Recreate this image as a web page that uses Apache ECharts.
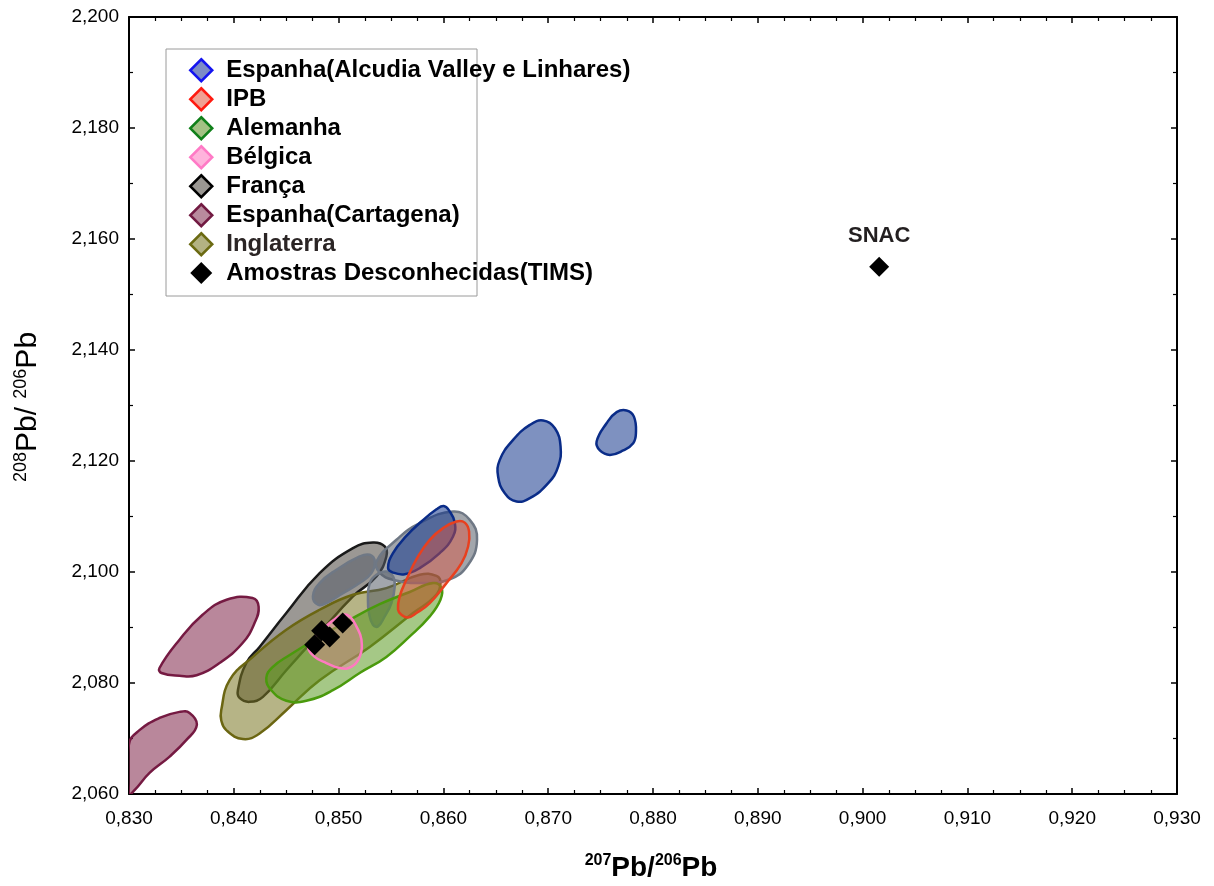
<!DOCTYPE html>
<html>
<head>
<meta charset="utf-8">
<script src="https://cdn.jsdelivr.net/npm/echarts@6/dist/echarts.min.js"></script>
<style>
html,body{margin:0;padding:0;background:#fff;}
#chart{width:1214px;height:886px;}
</style>
</head>
<body>
<div id="chart"></div>
<script>
// ---- data (x = 207Pb/206Pb, y = 208Pb/206Pb) ----
const alcudiaRegions = [
  [[0.86538,2.1202],[0.86665,2.1238],[0.86825,2.1265],[0.86952,2.1273],[0.87064,2.1259],[0.87118,2.1226],[0.87095,2.1190],[0.87000,2.1160],[0.86825,2.1133],[0.86698,2.1127],[0.86586,2.1142],[0.86522,2.1172]],
  [[0.87462,2.1235],[0.87557,2.1268],[0.87653,2.1288],[0.87748,2.1291],[0.87818,2.1280],[0.87837,2.1250],[0.87811,2.1232],[0.87716,2.1219],[0.87589,2.1211],[0.87493,2.1219]],
  [[0.85472,2.1007],[0.85519,2.1034],[0.85647,2.1065],[0.85790,2.1091],[0.85934,2.1113],[0.86003,2.1119],[0.86054,2.1111],[0.86109,2.1089],[0.86092,2.1064],[0.85965,2.1034],[0.85774,2.1007],[0.85631,2.0996],[0.85519,2.0999]]
];
const ipbRegions = [
  [[0.85567,2.0932],[0.85583,2.0956],[0.85647,2.0986],[0.85758,2.1028],[0.85870,2.1058],[0.85997,2.1079],[0.86125,2.1091],[0.86204,2.1089],[0.86245,2.1073],[0.86236,2.1046],[0.86173,2.1016],[0.86029,2.0980],[0.85870,2.0944],[0.85743,2.0926],[0.85663,2.0918],[0.85600,2.0923]]
];
const alemanhaRegions = [
  [[0.84310,2.0809],[0.84373,2.0829],[0.84530,2.0850],[0.84819,2.0883],[0.85106,2.0914],[0.85392,2.0942],[0.85679,2.0964],[0.85901,2.0980],[0.85982,2.0971],[0.85972,2.0950],[0.85870,2.0920],[0.85679,2.0884],[0.85456,2.0847],[0.85201,2.0818],[0.84946,2.0787],[0.84692,2.0768],[0.84501,2.0768],[0.84358,2.0787]]
];
const belgicaRegions = [
  [[0.84708,2.0865],[0.84755,2.0878],[0.84915,2.0908],[0.85042,2.0923],[0.85106,2.0920],[0.85170,2.0902],[0.85218,2.0878],[0.85201,2.0847],[0.85122,2.0829],[0.85010,2.0827],[0.84883,2.0836],[0.84772,2.0847]]
];
const francaRegions = [
  [[0.84039,2.0787],[0.84119,2.0836],[0.84246,2.0865],[0.84501,2.0926],[0.84819,2.0998],[0.85137,2.1043],[0.85328,2.1053],[0.85440,2.1046],[0.85456,2.1028],[0.85361,2.0992],[0.85137,2.0956],[0.84819,2.0890],[0.84501,2.0823],[0.84278,2.0775],[0.84151,2.0766],[0.84055,2.0773]]
];
const francaSubRegions = [
  [[0.85361,2.1019],[0.85552,2.1058],[0.85774,2.1088],[0.86092,2.1109],[0.86252,2.1094],[0.86321,2.1058],[0.86236,2.1013],[0.86061,2.0987],[0.85774,2.0980],[0.85519,2.0986],[0.85392,2.0999]],
  [[0.84755,2.0956],[0.84819,2.0980],[0.84979,2.1004],[0.85201,2.1028],[0.85297,2.1031],[0.85345,2.1019],[0.85313,2.0998],[0.85201,2.0980],[0.85042,2.0962],[0.84883,2.0944],[0.84803,2.0941]],
  [[0.85280,2.0950],[0.85297,2.0980],[0.85361,2.0995],[0.85456,2.1001],[0.85519,2.0992],[0.85536,2.0974],[0.85504,2.0944],[0.85440,2.0920],[0.85376,2.0902],[0.85328,2.0905],[0.85290,2.0926]]
];
const cartagenaRegions = [
  [[0.83291,2.0827],[0.83482,2.0878],[0.83702,2.0923],[0.83931,2.0950],[0.84179,2.0953],[0.84237,2.0937],[0.84198,2.0908],[0.84084,2.0872],[0.83864,2.0836],[0.83645,2.0814],[0.83482,2.0813],[0.83310,2.0818]],
  [[0.83000,2.0600],[0.83000,2.0690],[0.83100,2.0715],[0.83291,2.0737],[0.83482,2.0748],[0.83578,2.0746],[0.83647,2.0724],[0.83546,2.0697],[0.83385,2.0667],[0.83196,2.0638],[0.83053,2.0607]]
];
const inglaterraRegions = [
  [[0.83880,2.0751],[0.83960,2.0805],[0.84182,2.0847],[0.84501,2.0896],[0.84819,2.0932],[0.85137,2.0959],[0.85456,2.0971],[0.85774,2.0995],[0.85934,2.0993],[0.85972,2.0980],[0.85918,2.0956],[0.85710,2.0926],[0.85297,2.0865],[0.84819,2.0805],[0.84501,2.0751],[0.84246,2.0709],[0.84087,2.0699],[0.83928,2.0715],[0.83880,2.0733]]
];
const timsPoints = [[0.84772,2.0869],[0.84838,2.0894],[0.84915,2.0883],[0.85039,2.0908]];
const snacPoint = [[0.90158,2.1550]];

const names = ['Espanha(Alcudia Valley e Linhares)','IPB','Alemanha','Bélgica','França','Espanha(Cartagena)','Inglaterra','Amostras Desconhecidas(TIMS)'];

const FONT = "'Liberation Sans', Arial, Helvetica, sans-serif";
const fmt = v => v.toFixed(3).replace('.', ',');

function regionSeries(name, regions, fill, stroke, lw) {
  return {
    type: 'custom', name: name, clip: true,
    itemStyle: { color: fill, borderColor: stroke },
    data: regions.map(r => r[0]),
    renderItem: function (params, api) {
      const pts = regions[params.dataIndex].map(p => api.coord(p));
      return {
        type: 'polygon',
        shape: { points: pts, smooth: 0.45 },
        style: { fill: fill, stroke: stroke, lineWidth: lw || 2.5 }
      };
    }
  };
}

const chart = echarts.init(document.getElementById('chart'), null, { renderer: 'canvas' });

const axisCommon = {
  type: 'value',
  axisLine: { show: true, onZero: false, lineStyle: { color: '#000', width: 2 } },
  axisTick: { show: true, inside: true, length: 6, lineStyle: { color: '#000', width: 1.5 } },
  splitLine: { show: false }
};

const option = {
  animation: false,
  backgroundColor: '#fff',
  grid: { left: 129, right: 37, top: 17, bottom: 92, containLabel: false },
  xAxis: [
    Object.assign({}, axisCommon, {
      position: 'bottom', min: 0.83, max: 0.93, interval: 0.01,
      minorTick: { show: true, splitNumber: 4, length: 4, lineStyle: { color: '#000', width: 1.2 } },
      axisLabel: { formatter: fmt, fontSize: 19, color: '#000', fontFamily: FONT, margin: 15 }
    }),
    Object.assign({}, axisCommon, {
      position: 'top', min: 0.83, max: 0.93, interval: 0.01,
      minorTick: { show: true, splitNumber: 4, length: 4, lineStyle: { color: '#000', width: 1.2 } },
      axisLabel: { show: false }
    })
  ],
  yAxis: [
    Object.assign({}, axisCommon, {
      position: 'left', min: 2.06, max: 2.2, interval: 0.02,
      minorTick: { show: true, splitNumber: 2, length: 4, lineStyle: { color: '#000', width: 1.2 } },
      axisLabel: { formatter: fmt, fontSize: 19, color: '#000', fontFamily: FONT, margin: 10 }
    }),
    Object.assign({}, axisCommon, {
      position: 'right', min: 2.06, max: 2.2, interval: 0.02,
      minorTick: { show: true, splitNumber: 2, length: 4, lineStyle: { color: '#000', width: 1.2 } },
      axisLabel: { show: false }
    })
  ],
  legend: {
    orient: 'vertical', left: 184, top: 53,
    itemWidth: 22, itemHeight: 22, itemGap: 4.5, selectedMode: false,
    textStyle: { fontSize: 24, fontWeight: 'bold', color: '#000', fontFamily: FONT, padding: [0, 0, 0, 9] },
    data: [
      { name: names[0], icon: 'diamond', itemStyle: { color: '#7d8cc6', borderColor: '#1414f0', borderWidth: 2.5 } },
      { name: names[1], icon: 'diamond', itemStyle: { color: '#f0a193', borderColor: '#ff1a10', borderWidth: 2.5 } },
      { name: names[2], icon: 'diamond', itemStyle: { color: '#a3c184', borderColor: '#10801a', borderWidth: 2.5 } },
      { name: names[3], icon: 'diamond', itemStyle: { color: '#ffb3dc', borderColor: '#ff7ac6', borderWidth: 2.5 } },
      { name: names[4], icon: 'diamond', itemStyle: { color: '#9a9792', borderColor: '#000000', borderWidth: 2.5 } },
      { name: names[5], icon: 'diamond', itemStyle: { color: '#b98a9d', borderColor: '#721a42', borderWidth: 2.5 } },
      { name: names[6], icon: 'diamond', itemStyle: { color: '#b3b283', borderColor: '#6b6a12', borderWidth: 2.5 }, textStyle: { color: '#2b2525' } },
      { name: names[7], icon: 'diamond', itemStyle: { color: '#000000', borderColor: '#000000', borderWidth: 0 } }
    ]
  },
  graphic: [
    { type: 'rect', z: 3, shape: { x: 166, y: 49, width: 311, height: 247 },
      style: { fill: '#fff', stroke: '#9a9a9a', lineWidth: 1 } },
    { type: 'text', x: 28, y: 407, rotation: Math.PI / 2, z: 5,
      style: {
        text: '{s|208}{m|Pb/ }{s|206}{m|Pb}', align: 'center', verticalAlign: 'middle',
        rich: {
          s: { fontSize: 18, fontFamily: FONT, fill: '#000', padding: [0, 0, 14, 0] },
          m: { fontSize: 30, fontFamily: FONT, fill: '#000' }
        }
      } },
    { type: 'text', x: 651, y: 868, z: 5,
      style: {
        text: '{s|207}{m|Pb/}{s|206}{m|Pb}', align: 'center', verticalAlign: 'middle',
        rich: {
          s: { fontSize: 16, fontWeight: 'bold', fontFamily: FONT, fill: '#000', padding: [0, 0, 14, 0] },
          m: { fontSize: 28, fontWeight: 'bold', fontFamily: FONT, fill: '#000' }
        }
      } }
  ],
  series: [
    regionSeries(names[5], cartagenaRegions, 'rgba(127,37,73,0.55)', '#751a42'),
    regionSeries(names[4], francaRegions, 'rgba(73,68,60,0.55)', '#1a1a1a'),
    regionSeries(names[6], inglaterraRegions, 'rgba(122,119,35,0.55)', '#6b6612'),
    regionSeries(names[4], francaSubRegions, 'rgba(85,92,104,0.55)', '#6f7885', 2.5),
    regionSeries(names[2], alemanhaRegions, 'rgba(91,155,35,0.55)', '#4a9a0c'),
    regionSeries(names[0], alcudiaRegions, 'rgba(20,55,140,0.55)', '#0a2c88'),
    regionSeries(names[1], ipbRegions, 'rgba(220,80,60,0.45)', '#e8401f'),
    regionSeries(names[3], belgicaRegions, 'rgba(230,130,160,0.4)', '#ff7ac0'),
    {
      type: 'scatter', name: names[7], data: timsPoints, symbol: 'diamond', symbolSize: 21,
      itemStyle: { color: '#000', opacity: 1 }, z: 5
    },
    {
      type: 'scatter', name: 'SNAC', data: snacPoint, symbol: 'diamond', symbolSize: 20,
      itemStyle: { color: '#000', opacity: 1 }, z: 5,
      label: { show: true, formatter: 'SNAC', position: 'top', distance: 10,
        fontSize: 22, fontWeight: 'bold', color: '#231f20', fontFamily: FONT }
    }
  ]
};
chart.setOption(option);
</script>
</body>
</html>
